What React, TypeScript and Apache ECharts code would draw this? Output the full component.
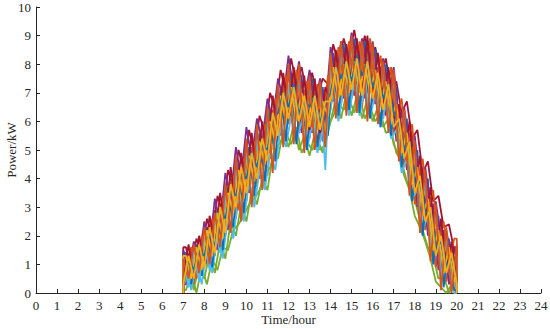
import React, { useEffect, useRef } from "react";
import * as echarts from "echarts";

// quarter-hour grid
const hours = [
  7, 7.25, 7.5, 7.75, 8, 8.25, 8.5, 8.75, 9, 9.25, 9.5, 9.75, 10, 10.25, 10.5, 10.75,
  11, 11.25, 11.5, 11.75, 12, 12.25, 12.5, 12.75, 13, 13.25, 13.5, 13.75, 14, 14.25,
  14.5, 14.75, 15, 15.25, 15.5, 15.75, 16, 16.25, 16.5, 16.75, 17, 17.25, 17.5, 17.75,
  18, 18.25, 18.5, 18.75, 19, 19.25, 19.5, 19.75, 20,
];
// offset grid (between quarter hours)
const hoursMid = [
  7.125, 7.375, 7.625, 7.875, 8.125, 8.375, 8.625, 8.875, 9.125, 9.375, 9.625, 9.875,
  10.125, 10.375, 10.625, 10.875, 11.125, 11.375, 11.625, 11.875, 12.125, 12.375, 12.625,
  12.875, 13.125, 13.375, 13.625, 13.875, 14.125, 14.375, 14.625, 14.875, 15.125, 15.375,
  15.625, 15.875, 16.125, 16.375, 16.625, 16.875, 17.125, 17.375, 17.625, 17.875, 18.125,
  18.375, 18.625, 18.875, 19.125, 19.375, 19.625, 19.875,
];

const scenarioA = [1.3,0.4,1.6,0.6,2.2,1.2,2.9,1.9,3.7,2.8,4.6,3.5,5.3,4.0,5.6,4.4,6.3,5.2,7.1,6.0,7.8,6.3,7.5,5.7,7.2,5.9,7.0,5.4,8.1,7.0,8.5,7.2,8.7,7.3,8.4,7.1,8.3,6.8,7.9,6.4,7.4,5.3,6.1,4.4,5.0,3.2,3.9,2.1,2.8,1.0,1.9,0.5,1.5];
const scenarioB = [0.4,1.4,0.3,1.7,0.9,2.4,1.3,3.0,2.0,3.9,2.6,4.4,3.2,5.1,3.7,5.5,4.1,6.4,5.3,7.3,5.9,7.6,5.6,7.1,5.4,7.2,5.3,6.9,6.4,8.2,6.6,8.4,6.8,8.6,6.5,8.5,6.6,7.9,6.1,7.6,5.6,6.2,4.4,5.6,3.1,4.3,2.2,3.2,0.9,2.1,0.4,1.6,0.2];
const scenarioC = [1.4,0.4,1.5,0.6,2.1,1.2,2.6,1.9,3.2,2.7,4.2,3.2,4.7,3.8,5.1,4.3,5.8,5.0,6.7,5.9,7.3,6.0,7.2,5.7,6.9,5.8,6.8,5.6,7.9,6.8,8.0,7.0,8.2,7.0,8.0,7.0,7.9,6.6,7.5,6.2,7.1,5.1,5.9,4.2,4.7,3.0,3.6,1.9,2.4,0.9,1.7,0.5,1.3];
const scenarioD = [1.5,0.8,1.8,1.2,2.5,1.6,3.3,2.4,4.2,3.3,5.1,4.0,5.8,4.7,6.1,5.3,6.8,6.0,7.5,6.8,8.3,7.0,8.1,6.7,7.8,6.6,7.5,6.3,8.6,7.7,8.8,7.9,9.1,8.0,8.9,7.8,8.8,7.4,8.2,7.0,7.9,6.0,6.5,5.0,5.5,3.8,4.4,2.9,3.2,1.9,2.2,1.2,1.6];
const scenarioE = [0.2,0.9,0.1,1.0,0.5,1.4,0.7,1.8,1.2,2.5,2.0,3.1,2.5,3.6,3.1,4.0,3.6,4.8,4.7,5.7,5.1,5.9,5.0,5.5,4.8,5.6,5.0,5.2,6.0,6.8,6.1,7.0,6.2,6.9,6.1,6.8,6.0,6.5,5.8,6.1,5.2,4.8,4.1,3.6,2.7,2.3,1.8,1.2,0.4,0.2,0.0,0.3,0.0];
const scenarioF = [1.1,0.2,1.5,0.4,1.9,0.8,2.6,1.4,3.4,2.2,4.3,2.7,5.0,3.3,5.4,3.8,6.0,4.5,6.8,5.3,7.3,5.6,7.7,5.2,7.4,5.4,7.3,4.3,8.3,6.3,8.6,6.5,8.8,6.6,8.7,6.4,8.5,6.2,8.0,5.9,7.6,4.9,6.3,3.7,5.1,2.4,4.0,1.5,2.9,0.5,2.0,0.2,1.3];
const scenarioG = [0.6,1.7,0.5,2.0,1.1,2.7,1.7,3.5,2.3,4.4,3.1,4.9,3.7,5.6,4.2,6.0,4.6,6.9,5.6,7.7,6.3,7.9,6.0,7.6,5.7,7.5,5.6,7.2,6.7,8.5,6.9,8.7,7.2,8.9,7.0,9.0,6.9,8.4,6.6,7.9,6.1,6.6,4.7,6.0,3.5,4.8,2.6,3.7,1.3,2.6,0.8,1.8,0.5];
const scenarioH = [0.3,1.2,0.8,1.5,1.3,2.1,1.6,2.9,2.6,3.6,3.4,4.2,4.0,4.9,4.4,5.2,5.0,6.1,6.3,7.0,6.5,7.3,6.2,6.8,6.5,6.9,5.9,6.6,7.0,7.9,7.5,8.1,7.4,8.3,7.6,8.1,7.2,7.6,6.8,7.3,6.3,5.9,5.0,5.3,3.8,3.9,2.8,2.9,1.6,1.8,0.9,1.3,0.4];
const scenarioI = [1.2,0.5,1.7,0.7,2.3,1.0,2.8,1.6,3.8,2.1,4.8,2.5,5.4,3.0,5.9,3.6,6.5,4.2,7.3,5.1,8.0,5.2,8.0,4.9,7.6,5.0,7.4,5.1,8.4,6.1,8.8,6.2,9.0,6.3,8.8,6.0,8.7,5.9,8.1,5.6,7.8,4.6,6.4,3.4,5.3,2.1,4.3,1.1,3.1,0.1,2.3,0.0,1.7];
const scenarioJ = [0.3,1.3,0.5,1.7,0.9,2.3,1.4,3.0,2.1,3.8,3.0,4.4,3.5,4.9,4.0,5.4,4.6,6.3,5.5,7.0,6.1,7.2,6.0,6.9,5.8,6.9,5.7,6.7,6.7,7.9,6.9,8.1,7.1,8.2,6.9,8.1,6.8,7.7,6.4,7.3,5.8,6.1,4.7,5.3,3.5,4.1,2.5,3.0,1.3,2.0,0.7,1.4,0.3];

const scenarioK = [0.3,1.5,0.6,1.9,1.0,2.4,1.5,3.1,2.2,3.9,2.9,4.6,3.5,5.2,4.0,5.7,4.7,6.6,5.5,7.4,6.0,7.5,5.6,7.0,5.6,6.9,5.3,7.4,6.7,8.3,6.8,8.5,6.9,8.4,6.8,8.4,6.6,7.9,6.2,7.5,5.3,6.4,4.3,5.4,3.0,4.3,2.0,3.1,0.8,2.2,0.3,1.6];
const scenarioL = [1.4,0.3,1.7,0.6,2.3,0.9,2.9,1.5,3.7,2.3,4.5,2.8,5.1,3.4,5.6,3.9,6.4,4.6,7.2,5.3,7.7,5.2,7.6,5.0,7.5,5.1,7.2,5.5,8.4,6.2,8.7,6.4,8.9,6.3,8.8,6.1,8.5,5.8,8.0,5.5,7.2,4.4,6.1,3.2,5.0,2.0,4.0,1.0,2.7,0.2,1.9,0.1];
const scenarioM = [0.8,1.1,0.5,1.6,1.9,1.3,2.6,2.0,3.3,3.6,2.9,4.3,4.5,3.8,5.2,5.5,4.9,6.2,6.9,6.0,7.2,6.8,6.1,6.7,5.8,6.6,6.4,6.0,7.6,7.8,6.9,8.2,7.7,7.1,8.0,7.9,6.8,7.4,7.2,6.1,6.6,5.8,4.6,5.1,4.2,3.0,3.4,2.5,1.4,1.8,1.1,0.6];
const scenarioN = [0.1,0.7,0.0,0.9,0.3,1.2,0.8,1.6,1.5,2.2,2.4,2.7,3.1,3.3,3.6,4.1,4.4,5.0,5.3,5.6,5.2,5.8,4.9,5.3,5.0,5.4,4.9,5.8,6.2,6.6,6.4,6.8,6.3,6.9,6.1,6.5,6.0,6.3,5.6,5.7,4.9,4.6,3.9,3.6,2.9,2.2,1.6,1.3,0.5,0.6,0.0,0.4];
const scenarioO = [1.6,0.9,1.9,1.4,2.6,2.0,3.4,2.8,4.3,3.7,5.0,4.3,5.7,4.9,6.2,5.6,7.0,6.4,7.8,7.0,8.2,7.3,7.9,6.9,7.7,6.8,7.5,7.3,8.7,8.0,8.9,8.2,9.2,8.1,9.0,8.0,8.6,7.6,8.2,7.1,7.4,6.3,6.7,5.4,5.7,4.2,4.6,3.2,3.4,2.3,2.4,1.5];
const scenarioP = [1.3,0.5,1.6,0.8,2.2,1.3,2.8,1.9,3.5,2.8,4.3,3.3,4.8,3.9,5.3,4.5,6.0,5.3,6.9,6.0,7.2,6.0,7.0,5.7,6.8,5.7,6.7,6.2,7.9,6.8,8.0,7.0,8.1,7.0,8.0,7.0,7.8,6.5,7.4,6.1,6.6,4.9,5.6,3.8,4.4,2.7,3.3,1.5,2.2,0.7,1.6,0.4];
const scenarioQ = [0.9,0.1,1.2,0.3,1.6,0.7,2.1,1.2,2.7,1.9,3.4,2.5,3.9,3.0,4.3,3.6,4.9,4.3,5.8,5.1,6.2,5.3,6.0,5.0,5.9,4.9,5.7,5.9,7.0,6.0,7.2,6.2,7.4,6.2,7.2,6.1,7.0,5.8,6.6,5.4,5.7,4.2,4.7,3.3,3.6,2.2,2.7,1.3,1.8,0.4,1.1,0.0];
const scenarioR = [0.6,1.6,0.9,2.0,1.4,2.6,1.9,3.3,2.6,4.1,3.3,4.7,3.9,5.3,4.4,5.9,5.0,6.8,6.0,7.6,6.4,7.8,6.3,7.4,6.1,7.3,5.9,7.6,7.0,8.6,7.2,8.8,7.3,8.8,7.1,8.9,7.0,8.3,6.7,7.9,6.0,6.8,5.0,5.9,3.9,4.7,2.9,3.6,1.7,2.5,1.0,1.9];

const blue = "#0072BD";
const orange = "#D95319";
const yellow = "#EDB120";
const purple = "#7E2F8E";
const green = "#77AC30";
const cyan = "#4DBEEE";
const darkRed = "#A2142F";

// draw order (later on top)
const layers: { vals: number[]; grid: number[]; color: string }[] = [
  { vals: scenarioA, grid: hours, color: blue },
  { vals: scenarioN, grid: hoursMid, color: green },
  { vals: scenarioB, grid: hours, color: orange },
  { vals: scenarioK, grid: hoursMid, color: purple },
  { vals: scenarioE, grid: hours, color: green },
  { vals: scenarioO, grid: hoursMid, color: darkRed },
  { vals: scenarioQ, grid: hoursMid, color: cyan },
  { vals: scenarioM, grid: hoursMid, color: orange },
  { vals: scenarioC, grid: hours, color: yellow },
  { vals: scenarioL, grid: hoursMid, color: blue },
  { vals: scenarioD, grid: hours, color: purple },
  { vals: scenarioR, grid: hoursMid, color: orange },
  { vals: scenarioF, grid: hours, color: cyan },
  { vals: scenarioG, grid: hours, color: darkRed },
  { vals: scenarioP, grid: hoursMid, color: yellow },
  { vals: scenarioH, grid: hours, color: blue },
  { vals: scenarioI, grid: hours, color: orange },
  { vals: scenarioJ, grid: hours, color: yellow },
];

const xTicks = ["0","1","2","3","4","5","6","7","8","9","10","11","12","13","14","15","16","17","18","19","20","21","22","23","24"];
const startHour = 7;
const endHour = 20;

export default function App() {
  const ref = useRef<HTMLDivElement>(null);
  useEffect(() => {
    if (!ref.current) return;
    const chart = echarts.init(ref.current, undefined, { renderer: "svg" });
    const font = "Times New Roman";
    const series = layers.map((layer, k) => {
      const data: number[][] = [[startHour, 0]];
      if (layer.grid[0] !== startHour) data.push([startHour, layer.vals[0]]);
      layer.grid.forEach((h, i) => data.push([h, layer.vals[i]]));
      if (layer.grid[layer.grid.length - 1] !== endHour)
        data.push([endHour, layer.vals[layer.vals.length - 1]]);
      data.push([endHour, 0]);
      return {
        type: "line",
        data,
        showSymbol: false,
        symbol: "none",
        lineStyle: { width: 1.8, color: layer.color },
        z: 2 + k,
      };
    });
    chart.setOption({
      animation: false,
      backgroundColor: "#ffffff",
      grid: { left: 36, right: 9, top: 7, bottom: 36, containLabel: false, outerBoundsMode: "none" },
      xAxis: {
        type: "value",
        min: 0,
        max: 24,
        interval: 1,
        name: "Time/hour",
        nameLocation: "middle",
        nameGap: 20,
        nameMoveOverlap: false,
        nameTextStyle: { fontFamily: font, fontSize: 13, color: "#262626" },
        axisLine: { show: true, onZero: false, lineStyle: { color: "#262626", width: 1 } },
        axisTick: { show: true, inside: true, length: 4, lineStyle: { color: "#262626" } },
        axisLabel: {
          fontFamily: font,
          fontSize: 13,
          color: "#262626",
          margin: 6,
          formatter: (v: number) => xTicks[Math.round(v)] ?? "",
        },
        splitLine: { show: false },
      },
      yAxis: {
        type: "value",
        min: 0,
        max: 10,
        interval: 1,
        name: "Power/kW",
        nameLocation: "middle",
        nameGap: 18,
        nameMoveOverlap: false,
        nameTextStyle: { fontFamily: font, fontSize: 13, color: "#262626" },
        axisLine: { show: true, onZero: false, lineStyle: { color: "#262626", width: 1 } },
        axisTick: { show: true, inside: true, length: 4, lineStyle: { color: "#262626" } },
        axisLabel: { fontFamily: font, fontSize: 13, color: "#262626", margin: 5 },
        splitLine: { show: false },
      },
      series,
    });
    return () => chart.dispose();
  }, []);
  return <div ref={ref} style={{ width: 550, height: 329, position: "absolute", left: 0, top: 0 }} />;
}
